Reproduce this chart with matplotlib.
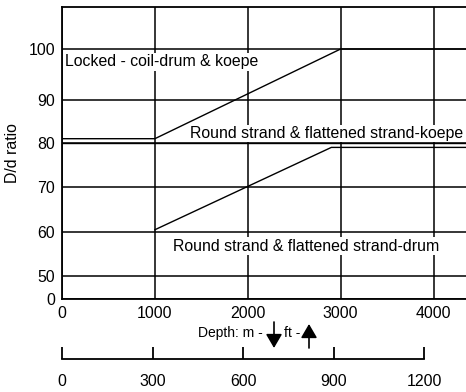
import numpy as np
import matplotlib
matplotlib.use("Agg")
import matplotlib.pyplot as plt
from matplotlib.scale import FuncScale

plt.rcParams['font.family'] = ['Liberation Sans', 'DejaVu Sans']

# ---- data ----
ft_ticks = [0, 1000, 2000, 3000, 4000]
m_ticks = [0, 300, 600, 900, 1200]
ratio_ticks = [0, 50, 60, 70, 80, 90, 100]

locked_x = [0, 1000, 3000, 4400]
locked_y = [81, 81, 100, 100]
koepe_x = [0, 4400]
koepe_y = [80, 80]
drum_x = [1000, 2900, 4400]
drum_y = [60.5, 79, 79]

labels = ["Locked - coil-drum & koepe",
          "Round strand & flattened strand-koepe",
          "Round strand & flattened strand-drum"]

# non-linear (broken) ratio axis as drawn in the original
scale_vals = np.array([0, 50, 60, 70, 80, 90, 100, 110], dtype=float)
scale_pos = np.array([0, 23, 67, 112, 156, 199, 250, 292], dtype=float)

def fwd(v):
    return np.interp(v, scale_vals, scale_pos)

def inv(p):
    return np.interp(p, scale_pos, scale_vals)

FS = 11.4
W, H = 466, 392
fig = plt.figure(figsize=(W / 100, H / 100), dpi=100)
ax = fig.add_axes([62 / W, (H - 299) / H, (W - 62) / W + 0.01, (299 - 7) / H])
ax.set_yscale(FuncScale(ax, (fwd, inv)))
ax.set_xlim(0, 4400)
ax.set_ylim(0, 110)

ax.set_xticks(ft_ticks)
ax.set_yticks(ratio_ticks)
ax.tick_params(length=0, labelsize=FS, pad=5)
ax.tick_params(axis='x', pad=5)
ax.grid(True, color='black', lw=1.1)
for s in ['left', 'top', 'bottom']:
    ax.spines[s].set_linewidth(1.3)
ax.spines['right'].set_visible(False)
ax.set_ylabel("D/d ratio", fontsize=FS, labelpad=6)

ax.plot(locked_x, locked_y, color='black', lw=1.0)
ax.plot(koepe_x, koepe_y, color='black', lw=1.0)
ax.plot(drum_x, drum_y, color='black', lw=1.0)

bb = dict(facecolor='white', edgecolor='none', pad=1.0)
ax.text(30, 97.5, labels[0], fontsize=FS, va='center', ha='left', bbox=bb)
ax.text(1380, 82.2, labels[1], fontsize=FS, va='center', ha='left', bbox=bb)
ax.text(1200, 56.8, labels[2], fontsize=FS, va='center', ha='left', bbox=bb)

# secondary metre scale
ax2 = fig.add_axes([62 / W, (H - 359) / H, (424 - 62) / W, 0.001])
ax2.set_xlim(0, 1200)
ax2.set_ylim(0, 1)
ax2.set_xticks(m_ticks)
ax2.set_yticks([])
for s in ['left', 'top', 'right']:
    ax2.spines[s].set_visible(False)
ax2.spines['bottom'].set_linewidth(1.3)
ax2.tick_params(axis='x', direction='in', length=9, width=1.3, labelsize=FS, pad=11)

# depth caption with arrows
fig.text(230 / W, 1 - 333 / H, "Depth: m -", fontsize=10, ha='center', va='center')
fig.text(292 / W, 1 - 333 / H, "ft -", fontsize=10, ha='center', va='center')
arrow_kw = dict(arrowstyle='-|>,head_length=0.6,head_width=0.35', color='black', lw=1.2,
                mutation_scale=14, shrinkA=0, shrinkB=0)
ax.annotate("", xy=(274 / W, 1 - 348 / H), xytext=(274 / W, 1 - 322 / H),
            xycoords='figure fraction', textcoords='figure fraction', arrowprops=arrow_kw,
            annotation_clip=False)
ax.annotate("", xy=(309 / W, 1 - 324 / H), xytext=(309 / W, 1 - 348 / H),
            xycoords='figure fraction', textcoords='figure fraction', arrowprops=arrow_kw,
            annotation_clip=False)

fig.savefig("out.png", dpi=100)
